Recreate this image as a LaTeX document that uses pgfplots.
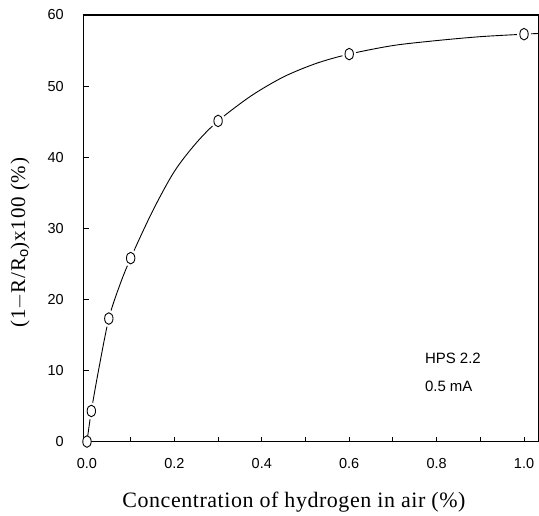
\documentclass[border=0pt]{standalone}
\usepackage{fontspec}
\setmainfont{Liberation Sans}
\newfontfamily\labfont{Liberation Serif}[LetterSpace=2.5]
\newfontfamily\ylabfont{Liberation Serif}[LetterSpace=4]
\usepackage{pgfplots}
\pgfplotsset{compat=1.18}
\pgfdeclareplotmark{ell}{%
  \pgfpathellipse{\pgfpointorigin}{\pgfqpoint{4.2bp}{0pt}}{\pgfqpoint{0pt}{5.8bp}}%
  \pgfusepathqfillstroke}
\pgfdeclareplotmark{ellgap}{%
  \pgfpathellipse{\pgfpointorigin}{\pgfqpoint{7bp}{0pt}}{\pgfqpoint{0pt}{8.5bp}}%
  \pgfusepathqfill}
\begin{document}
\begin{tikzpicture}
\begin{axis}[
  at={(0,0)}, anchor=south west,
  scale only axis,
  width=455bp, height=427bp,
  xmin=-0.007, xmax=1.033,
  ymin=0, ymax=60,
  axis line style={line width=1.1bp},
  xtick={0,0.2,0.4,0.6,0.8,1.0},
  minor xtick={0.1,0.3,0.5,0.7,0.9},
  ytick={0,10,20,30,40,50,60},
  tick pos=left,
  tick align=inside,
  major tick length=5bp, minor tick length=5bp,
  every tick/.style={line width=0.9bp, black},
  /pgf/number format/assume math mode=true,
  ticklabel style={font=\fontsize{14.5bp}{16bp}\selectfont, inner sep=0pt},
  xticklabel style={anchor=north, yshift=-17bp, /pgf/number format/fixed, /pgf/number format/fixed zerofill, /pgf/number format/precision=1},
  yticklabel style={anchor=east, xshift=-20bp},
  xlabel={\labfont Concentration of hydrogen in air (\%)},
  xlabel style={font=\fontsize{22bp}{24bp}\selectfont, at={(axis description cs:0.462,0)}, anchor=center, yshift=-61bp},
  ylabel={\ylabfont (1$-$R/R$_\mathrm{o}$)x100 (\%)},
  ylabel style={font=\fontsize{21bp}{23bp}\selectfont, at={(axis description cs:-0.1407,0.466)}, anchor=center},
  clip=false,
]
\addplot[smooth, tension=0.5, line width=0.9bp, black] coordinates {
(0,0) (0.01,4.3) (0.027,10.2) (0.05,17.3) (0.075,22.0) (0.1,25.8)
(0.15,32.4) (0.2,38.0) (0.25,42.0) (0.3,45.1) (0.375,48.6)
(0.45,51.3) (0.525,53.2) (0.6,54.5) (0.7,55.7) (0.8,56.4)
(0.9,56.95) (1.0,57.3) (1.033,57.4)};
\addplot[only marks, mark=ellgap, mark options={fill=white, draw=none}] coordinates {
(0.01,4.3) (0.05,17.3) (0.1,25.8) (0.3,45.1) (0.6,54.5) (1.0,57.3)};
\addplot[only marks, mark=ell, mark options={fill=white, draw=black, line width=0.9bp}] coordinates {
(0,0) (0.01,4.3) (0.05,17.3) (0.1,25.8) (0.3,45.1) (0.6,54.5) (1.0,57.3)};
\node[anchor=west, font=\fontsize{15bp}{17bp}\selectfont, inner sep=0pt] at (axis cs:0.773,11.65) {HPS 2.2};
\node[anchor=west, font=\fontsize{15bp}{17bp}\selectfont, inner sep=0pt] at (axis cs:0.773,7.7) {0.5 mA};
\end{axis}
\path[use as bounding box] (-84bp,-74bp) rectangle (455bp,442bp);
\end{tikzpicture}
\end{document}
